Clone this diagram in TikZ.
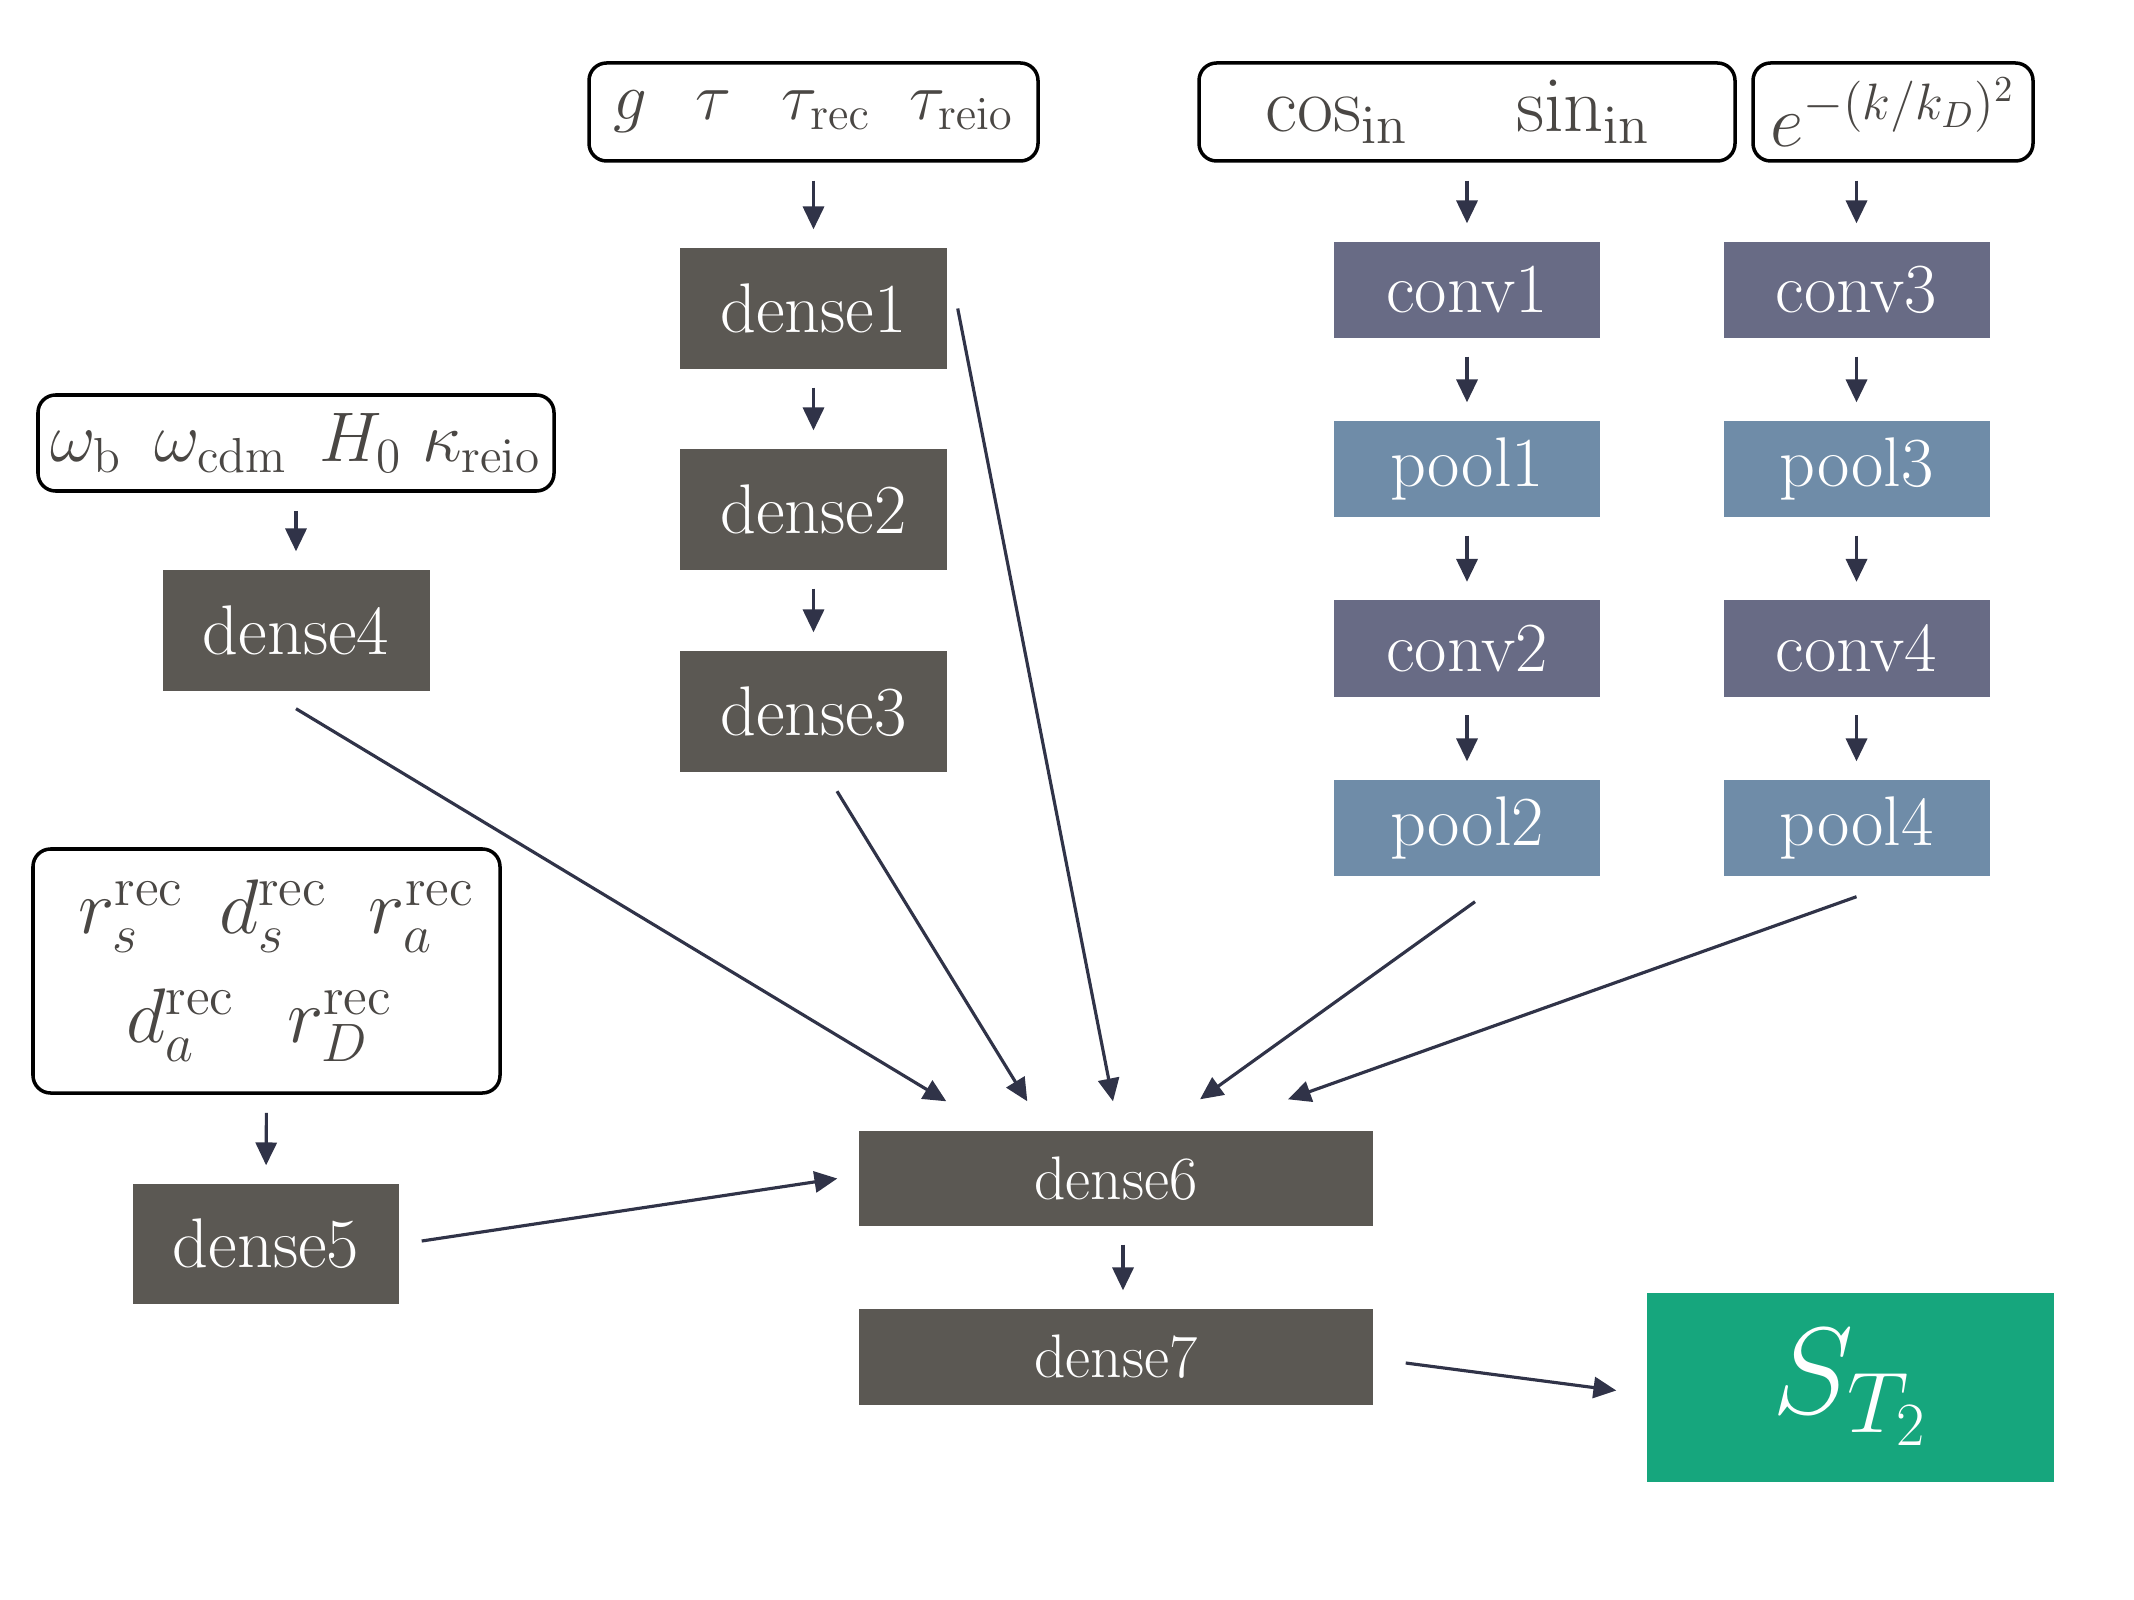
\RequirePackage{fix-cm}
\documentclass[tikz,border=0pt]{standalone}
\usepackage{tikz}
\usetikzlibrary{arrows.meta, calc}
\usepackage{xcolor}
\definecolor{densegray}{RGB}{91,88,83}
\definecolor{convslate}{RGB}{104,107,133}
\definecolor{poolblue}{RGB}{111,140,168}
\definecolor{outgreen}{RGB}{22,166,125}
\definecolor{intext}{RGB}{74,71,68}
\definecolor{arrcol}{RGB}{48,51,72}
\tikzset{
  IN/.style={draw=black,fill=white,line width=1pt,rectangle,rounded corners=5pt,text=intext,align=center,inner sep=0pt,font=\fontsize{19}{21}\selectfont},
  DN/.style={fill=densegray,rectangle,minimum width=2.67cm,minimum height=1.21cm,text=white,inner sep=0pt,font=\fontsize{20}{22}\selectfont},
  WD/.style={fill=densegray,rectangle,minimum width=5.14cm,minimum height=0.95cm,text=white,inner sep=0pt,font=\fontsize{17.5}{19}\selectfont},
  CV/.style={fill=convslate,rectangle,minimum width=2.66cm,minimum height=0.96cm,text=white,inner sep=0pt,font=\fontsize{20}{22}\selectfont},
  PL/.style={fill=poolblue,rectangle,minimum width=2.66cm,minimum height=0.96cm,text=white,inner sep=0pt,font=\fontsize{20}{22}\selectfont},
  OUT/.style={fill=outgreen,rectangle,minimum width=4.07cm,minimum height=1.89cm,text=white,inner sep=0pt,font=\fontsize{35}{38}\selectfont},
  FL/.style={-{Triangle[length=6.5pt,width=6pt]},line width=0.9pt,arrcol},
  SH/.style={FL,shorten <=0.18cm,shorten >=0.18cm},
}
\begin{document}
\begin{tikzpicture}

\useasboundingbox (0,0) rectangle (21.34,-16);

% Inputs
\node[IN,minimum width=4.49cm,minimum height=0.98cm](inA) at (8.135,-1.12){$g\hspace{0.48cm}\tau\hspace{0.51cm}\tau_{\mathrm{rec}}\hspace{0.39cm}\tau_{\mathrm{reio}}$};
\node[IN,minimum width=5.36cm,minimum height=0.98cm,font=\fontsize{22.3}{24}\selectfont](inB) at (14.67,-1.12){$\cos_{\mathrm{in}}\hspace{0.95cm}\sin_{\mathrm{in}}\hspace{0.18cm}$};
\node[IN,minimum width=2.80cm,minimum height=0.98cm,font=\fontsize{20.8}{23}\selectfont](inC) at (18.93,-1.12){$e^{-(k/k_D)^2}$};
\node[IN,minimum width=5.16cm,minimum height=0.96cm,font=\fontsize{20}{22}\selectfont](inD) at (2.96,-4.43){$\omega_{\mathrm{b}}\hspace{0.32cm}\omega_{\mathrm{cdm}}\hspace{0.32cm}H_0\hspace{0.2cm}\kappa_{\mathrm{reio}}$};
\node[IN,minimum width=4.67cm,minimum height=2.44cm,font=\fontsize{22}{31}\selectfont](inE) at (2.665,-9.71){\hspace*{0.2cm}$r_s^{\mathrm{rec}}\hspace{0.35cm}d_s^{\mathrm{rec}}\hspace{0.41cm}r_a^{\mathrm{rec}}$\\$d_a^{\mathrm{rec}}\hspace{0.52cm}r_D^{\mathrm{rec}}$\hspace*{0.14cm}};

% Dense column
\node[DN](dense1) at (8.135,-3.085){dense1};
\node[DN](dense2) at (8.135,-5.095){dense2};
\node[DN](dense3) at (8.135,-7.115){dense3};
\node[DN](dense4) at (2.96,-6.305){dense4};
\node[DN,minimum width=2.66cm,minimum height=1.20cm](dense5) at (2.66,-12.44){dense5};

% Conv / pool columns
\node[CV](conv1) at (14.67,-2.90){conv1};
\node[PL](pool1) at (14.67,-4.69){pool1};
\node[CV](conv2) at (14.67,-6.485){conv2};
\node[PL](pool2) at (14.67,-8.28){pool2};
\node[CV](conv3) at (18.565,-2.90){conv3};
\node[PL](pool3) at (18.565,-4.69){pool3};
\node[CV](conv4) at (18.565,-6.485){conv4};
\node[PL](pool4) at (18.565,-8.28){pool4};

% Merge and output
\node[WD](dense6) at (11.16,-11.785){dense6};
\node[WD,minimum height=0.96cm](dense7) at (11.16,-13.57){dense7};
\node[OUT](out) at (18.505,-13.875){$S_{T_2}$};

% FLOWS
\draw[SH](inA.south)--(dense1.north);
\draw[SH](dense1.south)--(dense2.north);
\draw[SH](dense2.south)--(dense3.north);
\draw[SH](inD.south)--(dense4.north);
\draw[SH](inE.south)--(dense5.north);

\draw[SH](inB.south)--(conv1.north);
\draw[SH](conv1.south)--(pool1.north);
\draw[SH](pool1.south)--(conv2.north);
\draw[SH](conv2.south)--(pool2.north);
\draw[SH](conv3.north |- inC.south)--(conv3.north);
\draw[SH](conv3.south)--(pool3.north);
\draw[SH](pool3.south)--(conv4.north);
\draw[SH](conv4.south)--(pool4.north);

\draw[FL]([yshift=-0.17cm]dense4.south)--([xshift=0.88cm,yshift=0.29cm]dense6.north west);
\draw[FL]([xshift=0.235cm,yshift=-0.185cm]dense3.south)--([xshift=1.69cm,yshift=0.29cm]dense6.north west);
\draw[FL]([xshift=0.1cm]dense1.east)--([xshift=-0.03cm,yshift=0.29cm]dense6.north);
\draw[FL]([xshift=0.08cm,yshift=-0.25cm]pool2.south)--([xshift=0.84cm,yshift=0.31cm]dense6.north);
\draw[FL]([yshift=-0.2cm]pool4.south)--([xshift=1.72cm,yshift=0.31cm]dense6.north);
\draw[FL]([xshift=0.22cm,yshift=0.03cm]dense5.east)--([xshift=-0.21cm]dense6.west);
\draw[SH]([xshift=0.07cm]dense6.south)--([xshift=0.07cm]dense7.north);
\draw[FL]([xshift=0.32cm,yshift=-0.06cm]dense7.east)--([xshift=-0.30cm,yshift=-0.03cm]out.west);

\end{tikzpicture}
\end{document}
